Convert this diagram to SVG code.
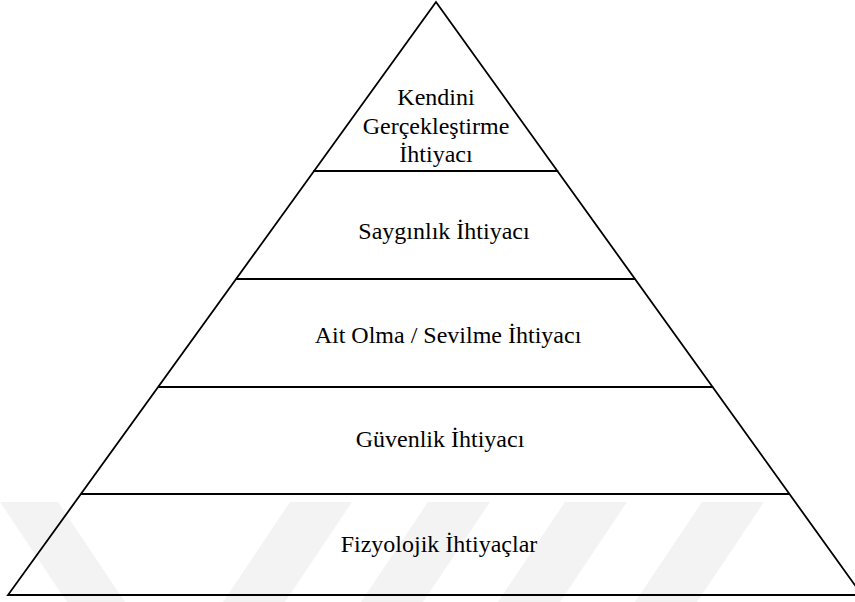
<svg xmlns="http://www.w3.org/2000/svg" width="855" height="602" viewBox="0 0 855 602">
<style>
  .edge { fill: none; stroke: #000; stroke-width: 1.8; stroke-linejoin: miter; }
  .lbl { font-family: "Liberation Serif", "Times New Roman", serif; font-size: 24px; fill: #000; text-anchor: middle; }
  .wm { fill: #f3f3f3; stroke: none; }
</style>
<rect width="855" height="602" fill="#fff"/>
<g id="watermark">
  <polygon class="wm" points="0,502 58,502 125,602 67,602"/>
  <polygon class="wm" points="290,502 352,502 285,602 223,602"/>
  <polygon class="wm" points="428,502 490,502 423,602 361,602"/>
  <polygon class="wm" points="565,502 627,502 560,602 498,602"/>
  <polygon class="wm" points="702,502 764,502 697,602 635,602"/>
</g>
<g id="connectors">
  <polygon class="edge" points="436,2 8,595 862,595"/>
  <line class="edge" x1="313.3" y1="171" x2="558.2" y2="171"/>
  <line class="edge" x1="236.1" y1="279" x2="635.4" y2="279"/>
  <line class="edge" x1="158.2" y1="387" x2="713.2" y2="387"/>
  <line class="edge" x1="81" y1="494" x2="790" y2="494"/>
</g>
<g id="level5">
  <text class="lbl" x="436" y="105">Kendini</text>
  <text class="lbl" x="436" y="133.5">Gerçekleştirme</text>
  <text class="lbl" x="436" y="162">İhtiyacı</text>
</g>
<g id="level4">
  <text class="lbl" x="444" y="239">Saygınlık İhtiyacı</text>
</g>
<g id="level3">
  <text class="lbl" x="448" y="343">Ait Olma / Sevilme İhtiyacı</text>
</g>
<g id="level2">
  <text class="lbl" x="440" y="447">Güvenlik İhtiyacı</text>
</g>
<g id="level1">
  <text class="lbl" x="439" y="552">Fizyolojik İhtiyaçlar</text>
</g>
</svg>
